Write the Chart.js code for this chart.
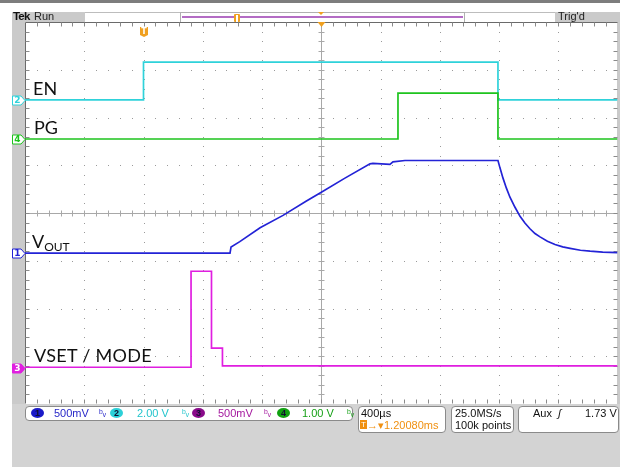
<!DOCTYPE html>
<html><head><meta charset="utf-8">
<script src="https://cdn.jsdelivr.net/npm/chart.js@4.4.1/dist/chart.umd.min.js"></script>
<style>
html,body{margin:0;padding:0}
body{width:620px;height:467px;position:relative;overflow:hidden;background:#fff;font-family:"Liberation Sans",Arial,sans-serif}
.a{position:absolute;white-space:nowrap}
#c{position:absolute;left:0;top:0;z-index:2}
.bg{z-index:0}
.tx{z-index:3}
.lbl{font-family:Lato,"Liberation Sans",sans-serif;font-size:18px;color:#111;line-height:18px}
.box{background:#fff;border:1px solid #8a8a8a;border-radius:4px;z-index:1}
.st{font-size:11px;line-height:11px;z-index:3}
.dot{width:13px;height:10px;border-radius:50%;text-align:center;font-size:9px;line-height:10px;font-weight:bold;z-index:3}
.bw{font-size:10px;line-height:10px;z-index:3}
</style></head><body>
<!-- frame decorations -->
<div class="a bg" style="left:0;top:0;width:620px;height:3px;background:#7d7d7d"></div>
<div class="a bg" style="left:12px;top:12px;width:13px;height:392px;background:#cacaca"></div>
<div class="a bg" style="left:617px;top:12px;width:3px;height:392px;background:#cacaca"></div>
<div class="a bg" style="left:12px;top:404px;width:608px;height:63px;background:#d3d3d3"></div>
<div class="a bg" style="left:12px;top:12px;width:73px;height:10px;background:#cacaca"></div>
<div class="a bg" style="left:85px;top:12px;width:470px;height:1px;background:#bdbdbd"></div>
<div class="a bg" style="left:180px;top:12px;width:283px;height:9px;border:1px solid #b0b0b0;border-bottom:none;background:#fff"></div>
<div class="a bg" style="left:182px;top:16px;width:281px;height:2px;background:#b36cc4"></div>
<div class="a bg" style="left:555px;top:12px;width:65px;height:10px;background:#cacaca"></div>
<div class="a tx" style="left:234px;top:14px;width:6px;height:8px;background:#f0a020;border-radius:1px"></div>
<div class="a tx" style="left:236px;top:15px;width:2px;height:7px;background:#fff"></div>
<div class="a tx" style="left:318px;top:12px;width:0;height:0;border-left:3px solid transparent;border-right:3px solid transparent;border-top:3px solid #f0a020"></div>
<div class="a tx" style="left:13px;top:11px;font-size:11.5px;line-height:11px;color:#111;font-weight:bold;letter-spacing:-0.8px">Tek</div>
<div class="a tx" style="left:34px;top:11px;font-size:11px;line-height:11px;color:#222">Run</div>
<div class="a tx" style="left:558px;top:11px;font-size:11px;line-height:11px;color:#222">Trig'd</div>

<canvas id="c" width="620" height="467"></canvas>

<!-- trace labels -->
<div class="a tx lbl" style="left:33px;top:79px">EN</div>
<div class="a tx lbl" style="left:34px;top:118px">PG</div>
<div class="a tx lbl" style="left:32px;top:232px">V<span style="font-size:12px;position:relative;top:3px">OUT</span></div>
<div class="a tx lbl" style="left:34px;top:346px;letter-spacing:0.3px">VSET / MODE</div>

<!-- status bar -->
<div class="a box" style="left:25px;top:406px;width:326px;height:13px"></div>
<div class="a box" style="left:358px;top:406px;width:86px;height:25px"></div>
<div class="a box" style="left:451px;top:406px;width:61px;height:25px"></div>
<div class="a box" style="left:518px;top:406px;width:99px;height:25px"></div>
<div id="status"></div>
<div class="a st" style="left:361px;top:408px;color:#111">400µs</div>
<div class="a st" style="left:360px;top:420px;color:#f09010"><span style="display:inline-block;width:7px;height:9px;background:#f09010;color:#fff;font-size:8px;line-height:9px;text-align:center;vertical-align:top">T</span>→▾1.20080ms</div>
<div class="a st" style="left:455px;top:408px;color:#111">25.0MS/s</div>
<div class="a st" style="left:455px;top:420px;color:#111">100k points</div>
<div class="a st" style="left:533px;top:408px;color:#111">Aux&nbsp;&nbsp;<i>ʃ</i></div>
<div class="a st" style="left:585px;top:408px;color:#111">1.73 V</div>

<script>
// ---- axes (oscilloscope graticule: 10 x 8 divisions) ----
const timeMin = -0.8, timeMax = 3.2, timePerDiv = 0.4;   // ms, 400 µs/div, trigger at 0
const levelMin = -4, levelMax = 4;                       // vertical divisions
const triggerTime = 0;

// ---- channel 2 : EN (cyan) ----
const enTime  = [-0.8, 0.0, 0.0, 2.393, 2.393, 3.2];
const enLevel = [2.37, 2.37, 3.16, 3.16, 2.37, 2.37];

// ---- channel 4 : PG (green) ----
const pgTime  = [-0.8, 1.718, 1.718, 2.393, 2.393, 3.2];
const pgLevel = [1.55, 1.55, 2.51, 2.51, 1.55, 1.55];

// ---- channel 1 : VOUT (blue) ----
const voutTime  = [-0.8, 0.584, 0.591, 0.65, 0.787, 0.942, 1.10, 1.192, 1.36, 1.529, 1.549, 1.664, 1.684, 1.765, 2.393,
                   2.407, 2.427, 2.45, 2.474, 2.508, 2.542, 2.575, 2.609, 2.643, 2.677, 2.727, 2.778, 2.83, 2.880, 2.95, 3.015, 3.1, 3.2];
const voutLevel = [-0.84, -0.84, -0.71, -0.60, -0.31, -0.05, 0.25, 0.42, 0.73, 1.03, 1.04, 1.02, 1.07, 1.10, 1.10,
                   0.94, 0.73, 0.52, 0.33, 0.12, -0.07, -0.21, -0.33, -0.43, -0.50, -0.59, -0.66, -0.71, -0.74, -0.78, -0.80, -0.82, -0.83];

// ---- channel 3 : VSET / MODE (magenta) ----
const vsetTime  = [-0.8, 0.321, 0.321, 0.459, 0.459, 0.533, 0.533, 3.2];
const vsetLevel = [-3.23, -3.23, -1.22, -1.22, -2.83, -2.83, -3.20, -3.20];

// ---- channel settings / markers ----
const channelNames  = ['1', '2', '3', '4'];
const channelScales = ['500mV', '2.00 V', '500mV', '1.00 V'];
const channelColors = ['#2323d6', '#2fd2da', '#e01ee0', '#1ec41e'];
const channelText   = ['#2828c8', '#22c4cc', '#a4189e', '#16a016'];
const channelDots   = ['#1a1ac8', '#2cd0d8', '#8a0a8a', '#10a010'];
const channelOffsets = [-0.84, 2.37, -3.25, 1.55];   // ground markers, divisions

// status bar channel readouts (HTML text)
const st = document.getElementById('status');
const dotX = [31, 110, 192, 277], txtX = [54, 137, 218, 302], bwX = [99, 182, 264, 347];
channelNames.forEach((n, i) => {
  st.insertAdjacentHTML('beforeend',
    `<div class="a dot" style="left:${dotX[i]}px;top:408px;background:${channelDots[i]};color:#101030">${n}</div>` +
    `<div class="a st" style="left:${txtX[i]}px;top:408px;color:${channelText[i]}">${channelScales[i]}</div>` +
    `<div class="a bw" style="left:${bwX[i]}px;top:408px;color:${channelText[i]}">ᵇᵥ</div>`);
});

const pts = (xs, ys) => xs.map((v, i) => ({x: v, y: ys[i]}));

const gratPlugin = {
  id: 'grat',
  beforeDatasetsDraw(chart) {
    const {ctx, chartArea: a, scales: {x, y}} = chart;
    ctx.save();
    const L = Math.round(a.left) + 0.5, R = Math.round(a.right) - 0.5, T = Math.round(a.top) + 0.5, B = Math.round(a.bottom) - 0.5;
    const xc = Math.round(x.getPixelForValue((timeMin + timeMax) / 2)) + 0.5;
    const yc = Math.round(y.getPixelForValue(0)) + 0.5;
    // dotted division lines
    ctx.fillStyle = '#9a9a9a';
    for (let i = 1; i < 10; i++) {
      if (i === 5) continue;
      const px = Math.round(x.getPixelForValue(timeMin + i * timePerDiv));
      for (let j = 1; j < 40; j++) ctx.fillRect(px, Math.round(y.getPixelForValue(levelMin + j * 0.2)), 1, 1);
    }
    for (let j = 1; j < 8; j++) {
      if (j === 4) continue;
      const py = Math.round(y.getPixelForValue(levelMin + j));
      for (let i = 1; i < 50; i++) ctx.fillRect(Math.round(x.getPixelForValue(timeMin + i * timePerDiv / 5)), py, 1, 1);
    }
    // center cross
    ctx.strokeStyle = '#a8a8a8'; ctx.lineWidth = 1;
    ctx.beginPath();
    ctx.moveTo(L, yc); ctx.lineTo(R, yc);
    ctx.moveTo(xc, T); ctx.lineTo(xc, B);
    for (let i = 1; i < 50; i++) {
      const px = Math.round(x.getPixelForValue(timeMin + i * timePerDiv / 5)) + 0.5;
      ctx.moveTo(px, yc - 3); ctx.lineTo(px, yc + 3);
    }
    for (let j = 1; j < 40; j++) {
      const py = Math.round(y.getPixelForValue(levelMin + j * 0.2)) + 0.5;
      ctx.moveTo(xc - 3, py); ctx.lineTo(xc + 3, py);
    }
    ctx.stroke();
    // frame + ticks
    ctx.strokeStyle = '#6a6a6a';
    ctx.beginPath();
    ctx.moveTo(L, B); ctx.lineTo(L, T); ctx.lineTo(R, T);
    ctx.stroke();
    ctx.strokeStyle = '#8a8a8a';
    ctx.beginPath();
    for (let i = 1; i < 50; i++) {
      const px = Math.round(x.getPixelForValue(timeMin + i * timePerDiv / 5)) + 0.5;
      ctx.moveTo(px, T); ctx.lineTo(px, T + 4);
      ctx.moveTo(px, B); ctx.lineTo(px, B - 4);
    }
    for (let j = 1; j < 40; j++) {
      const py = Math.round(y.getPixelForValue(levelMin + j * 0.2)) + 0.5;
      ctx.moveTo(L, py); ctx.lineTo(L + 4, py);
      ctx.moveTo(R, py); ctx.lineTo(R - 4, py);
    }
    ctx.stroke();
    ctx.restore();
  },
  afterDatasetsDraw(chart) {
    const {ctx, chartArea: a, scales: {x, y}} = chart;
    ctx.save();
    // trigger position marker (top, center) and trigger T marker
    const xc = Math.round(x.getPixelForValue((timeMin + timeMax) / 2)) + 0.5;
    ctx.fillStyle = '#f0a020';
    ctx.beginPath(); ctx.moveTo(xc - 4, a.top); ctx.lineTo(xc + 4, a.top); ctx.lineTo(xc, a.top + 5); ctx.closePath(); ctx.fill();
    const tx = Math.round(x.getPixelForValue(triggerTime));
    ctx.beginPath();
    ctx.moveTo(tx - 4, a.top + 5); ctx.lineTo(tx + 4, a.top + 5); ctx.lineTo(tx + 4, a.top + 13); ctx.lineTo(tx, a.top + 15); ctx.lineTo(tx - 4, a.top + 13); ctx.closePath(); ctx.fill();
    ctx.fillStyle = '#fff'; ctx.font = 'bold 8px "DejaVu Sans"'; ctx.textAlign = 'center'; ctx.textBaseline = 'middle';
    ctx.fillText('T', tx, a.top + 10);
    // channel ground markers on the left
    channelNames.forEach((n, i) => {
      const py = Math.round(y.getPixelForValue(channelOffsets[i])) + 0.5;
      const l = 12.5, r = a.left;
      ctx.beginPath();
      ctx.moveTo(l, py - 4.5); ctx.lineTo(r - 4, py - 4.5); ctx.lineTo(r, py); ctx.lineTo(r - 4, py + 4.5); ctx.lineTo(l, py + 4.5); ctx.closePath();
      const filled = i === 2;
      ctx.fillStyle = filled ? channelColors[i] : '#fff';
      ctx.fill();
      ctx.strokeStyle = channelColors[i]; ctx.lineWidth = 1; ctx.stroke();
      ctx.fillStyle = filled ? '#fff' : channelColors[i];
      ctx.font = 'bold 9px "DejaVu Sans"';
      ctx.fillText(n, l + 5, py + 0.5);
    });
    ctx.restore();
  }
};

new Chart(document.getElementById('c'), {
  type: 'line',
  data: {
    datasets: [
      {label: 'VSET / MODE', data: pts(vsetTime, vsetLevel), borderColor: channelColors[2]},
      {label: 'VOUT', data: pts(voutTime, voutLevel), borderColor: channelColors[0]},
      {label: 'PG', data: pts(pgTime, pgLevel), borderColor: channelColors[3]},
      {label: 'EN', data: pts(enTime, enLevel), borderColor: channelColors[1]}
    ].map(d => Object.assign(d, {borderWidth: 1.7, pointRadius: 0, tension: 0, fill: false}))
  },
  options: {
    responsive: false,
    animation: false,
    events: [],
    layout: {padding: {left: 25, top: 22, right: 2.5, bottom: 63}},
    plugins: {legend: {display: false}, tooltip: {enabled: false}, title: {display: false}},
    scales: {
      x: {type: 'linear', min: timeMin, max: timeMax, display: false},
      y: {type: 'linear', min: levelMin, max: levelMax, display: false}
    }
  },
  plugins: [gratPlugin]
});
</script>
</body></html>
